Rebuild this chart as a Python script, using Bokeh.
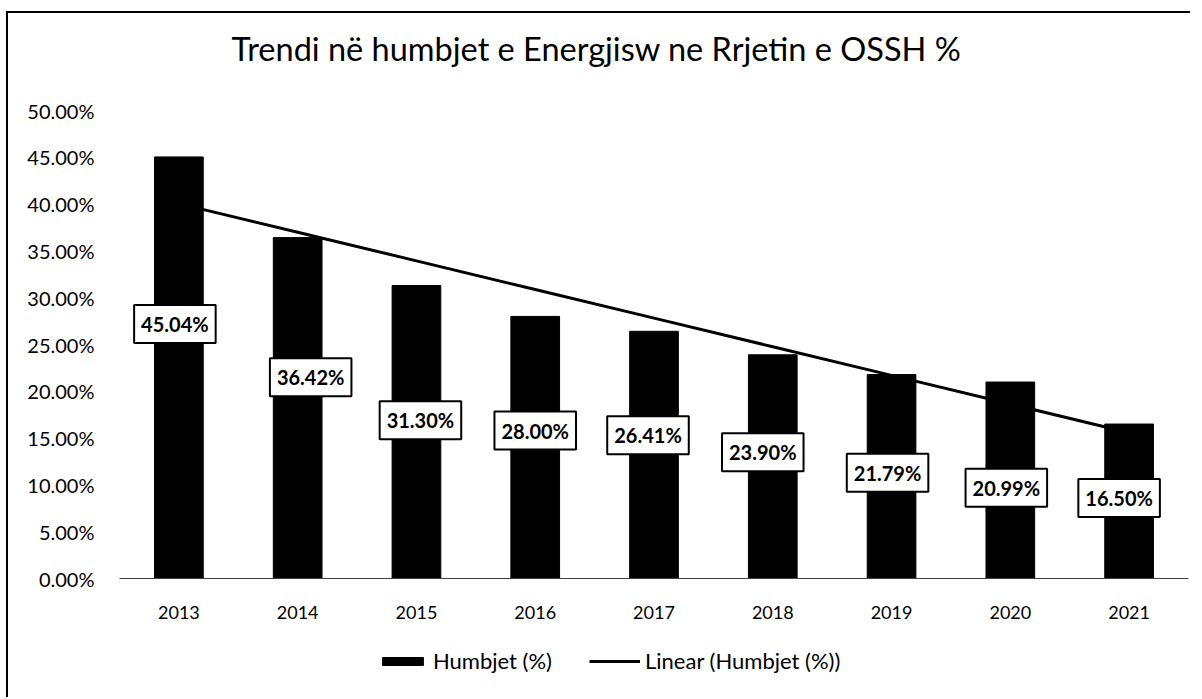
import numpy as np
from bokeh.plotting import figure
from bokeh.layouts import column
from bokeh.models import (ColumnDataSource, Legend, LegendItem, Label,
                          PrintfTickFormatter, FixedTicker)
from bokeh.core.properties import value
from bokeh.embed import file_html
from bokeh.resources import INLINE

# ---- data ----
years = ["2013", "2014", "2015", "2016", "2017", "2018", "2019", "2020", "2021"]
losses = [45.04, 36.42, 31.30, 28.00, 26.41, 23.90, 21.79, 20.99, 16.50]
labels = ["45.04%", "36.42%", "31.30%", "28.00%", "26.41%", "23.90%", "21.79%", "20.99%", "16.50%"]
y_ticks = [0, 5, 10, 15, 20, 25, 30, 35, 40, 45, 50]
title_text = "Trendi në humbjet e Energjisw ne Rrjetin e OSSH %"
series_name = "Humbjet (%)"
trend_name = "Linear (Humbjet (%))"

# label placement (layout, not data)
label_y = [27.2, 21.5, 16.9, 15.8, 15.3, 13.5, 11.3, 9.7, 8.6]
label_dx = [-4, 13, 4, 0, -6, -10, -4, -4, -10]

# linear trend (least squares fit, as Excel's trendline)
idx = np.arange(len(losses))
slope, intercept = np.polyfit(idx, losses, 1)
trend = list(intercept + slope * idx)

FONT = "Lato"

src = ColumnDataSource(dict(x=years, y=losses, lab=labels, ly=label_y, dx=label_dx, t=trend))

# ---- title strip ----
p0 = figure(width=1184, height=70, x_range=(0, 1), y_range=(0, 1),
            x_axis_type=None, y_axis_type=None,
            output_backend="svg", toolbar_location=None, min_border=0)
p0.outline_line_color = None
p0.xgrid.grid_line_color = None
p0.ygrid.grid_line_color = None
p0.add_layout(Label(x=477, y=35, x_units="screen", y_units="screen", text=title_text,
                    text_align="center", text_baseline="middle",
                    text_font=FONT, text_font_size="32.5px", text_color="black"))
p0.styles = {"border-left": "2px solid black", "border-top": "2px solid black"}

# ---- main chart ----
p = figure(x_range=years, y_range=(0, 50), width=1184, height=552,
           output_backend="svg", toolbar_location=None,
           min_border_left=111, min_border_right=4,
           min_border_top=29, min_border_bottom=55)
p.outline_line_color = None
p.xgrid.grid_line_color = None
p.ygrid.grid_line_color = None

bars = p.vbar(x="x", top="y", width=0.41, source=src, fill_color="black", line_color="black")
line = p.line(x="x", y="t", source=src, line_color="black", line_width=3)

p.text(x="x", y="ly", text="lab", source=src, x_offset="dx",
       text_align="center", text_baseline="middle",
       text_font=value(FONT), text_font_size="20px", text_font_style="bold",
       text_color="black",
       background_fill_color="white", border_line_color="black", border_line_width=2,
       padding=7)

p.yaxis.ticker = FixedTicker(ticks=y_ticks)
p.yaxis.formatter = PrintfTickFormatter(format="%.2f%%")
p.yaxis.axis_line_color = None
p.yaxis.major_tick_line_color = None
p.yaxis.minor_tick_line_color = None
p.yaxis.major_label_standoff = 19
p.yaxis.major_label_text_font = FONT
p.yaxis.major_label_text_font_size = "20px"
p.yaxis.major_label_text_color = "black"

p.xaxis.axis_line_color = "#404040"
p.xaxis.axis_line_width = 1
p.xaxis.major_tick_line_color = None
p.xaxis.minor_tick_line_color = None
p.xaxis.major_label_standoff = 21
p.xaxis.major_label_text_font = FONT
p.xaxis.major_label_text_font_size = "18px"
p.xaxis.major_label_text_color = "black"
p.styles = {"border-left": "2px solid black"}

# ---- legend strip (same glyphs, drawn outside its visible range) ----
p2 = figure(width=1184, height=64, x_range=years, y_range=(100, 200),
            x_axis_type=None, y_axis_type=None,
            output_backend="svg", toolbar_location=None, min_border=0)
p2.outline_line_color = None
p2.xgrid.grid_line_color = None
p2.ygrid.grid_line_color = None
lg_bar = p2.vbar(x="x", top="y", width=0.41, source=src, fill_color="black", line_color="black")
lg_line = p2.line(x="x", y="t", source=src, line_color="black", line_width=3)
legend = Legend(items=[LegendItem(label=series_name, renderers=[lg_bar]),
                       LegendItem(label=trend_name, renderers=[lg_line])],
                orientation="horizontal", location=(258, 23),
                label_text_font=FONT, label_text_font_size="22px",
                label_text_color="black",
                glyph_width=51, glyph_height=10, spacing=37,
                border_line_color=None, background_fill_alpha=0,
                label_standoff=5, margin=0, padding=4)
p2.add_layout(legend)
p2.styles = {"border-left": "2px solid black"}

layout = column(p0, p, p2, spacing=0, styles={"padding-left": "6px", "padding-top": "11px"})

open("out.html", "w").write(file_html(layout, INLINE))
